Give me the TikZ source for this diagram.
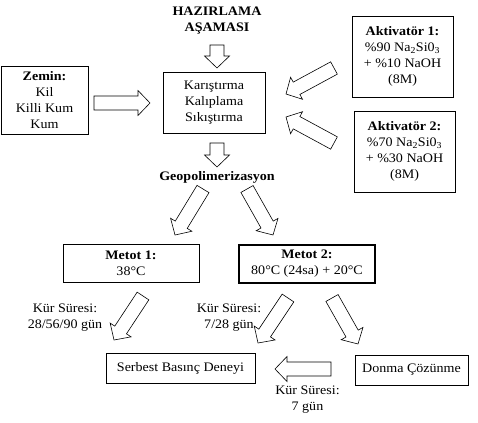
\documentclass[tikz,border=0pt]{standalone}
\usepackage{fontspec}
\setmainfont[FakeStretch=1.08]{Liberation Serif}
\usetikzlibrary{calc}
\newcommand{\blkarrow}[2]{%
  \coordinate (bn) at ($(#2)!12pt!(#1)$);
  \draw[blk] ($(#1)!7pt!90:(#2)$) -- ($(bn)!7pt!90:(#2)$) -- ($(bn)!12.5pt!90:(#2)$) -- (#2)
    -- ($(bn)!12.5pt!-90:(#2)$) -- ($(bn)!7pt!-90:(#2)$) -- ($(#1)!7pt!-90:(#2)$) -- cycle;}
\begin{document}
\begin{tikzpicture}[x=1pt,y=-1pt,
  every node/.style={font=\fontsize{13}{16}\selectfont, inner sep=0pt},
  box/.style={draw, line width=0.8pt, align=center},
  thickbox/.style={box, line width=1.3pt},
  lbl/.style={align=center},
  blk/.style={draw, line width=0.6pt, fill=white, line join=miter}]
\useasboundingbox (0,0) rectangle (478,422);

% boxes
\node[box, minimum width=87pt, minimum height=68pt] (zemin) at (44.5,100) {\textbf{Zemin:}\\Kil\\Killi Kum\\Kum};
\node[box, minimum width=102pt, minimum height=61pt] (karis) at (214,102.5) {Karıştırma\\Kalıplama\\Sıkıştırma};
\node[box, minimum width=101pt, minimum height=81pt] (akt1) at (402.5,56.5) {\textbf{Aktivatör 1:}\\\%90 Na\textsubscript{2}Si0\textsubscript{3}\\+ \%10 NaOH\\(8M)};
\node[box, minimum width=101pt, minimum height=81pt] (akt2) at (404.5,151.5) {\textbf{Aktivatör 2:}\\\%70 Na\textsubscript{2}Si0\textsubscript{3}\\+ \%30 NaOH\\(8M)};
\node[box, minimum width=136pt, minimum height=38pt] (m1) at (131,263) {\textbf{Metot 1:}\\38°C};
\node[thickbox, minimum width=136pt, minimum height=38pt] (m2) at (307,264) {\textbf{Metot 2:}\\80°C (24sa) + 20°C};
\node[box, minimum width=149pt, minimum height=30pt] (serbest) at (180.5,368) {Serbest Basınç Deneyi};
\node[box, minimum width=113pt, minimum height=30pt] (donma) at (411.5,370) {Donma Çözünme};

% labels
\node[lbl, font=\bfseries\fontsize{13}{15.5}\selectfont] (title) at (217,20.5) {HAZIRLAMA\\AŞAMASI};
\node[lbl, font=\bfseries\fontsize{13}{16}\selectfont] (geo) at (217,177) {Geopolimerizasyon};
\node[lbl] (k1) at (65,317.5) {Kür Süresi:\\28/56/90 gün};
\node[lbl] (k2) at (229,317.5) {Kür Süresi:\\7/28 gün};
\node[lbl] (k3) at (307.5,399.5) {Kür Süresi:\\7 gün};

% block arrows
\coordinate (a1t) at (217,45);   \coordinate (a1h) at (217,68);
\coordinate (a2t) at (94,103);   \coordinate (a2h) at (150,103);
\coordinate (a3t) at (334,68);   \coordinate (a3h) at (286,94);
\coordinate (a4t) at (334,143);  \coordinate (a4h) at (286,117);
\coordinate (a5t) at (217,143);  \coordinate (a5h) at (217,167);
\coordinate (a6t) at (203,189);  \coordinate (a6h) at (175,235);
\coordinate (a7t) at (247,189);  \coordinate (a7h) at (273,235);
\coordinate (a8t) at (143,296);  \coordinate (a8h) at (114,340);
\coordinate (a9t) at (288,298);  \coordinate (a9h) at (258,343);
\coordinate (a10t) at (332,298); \coordinate (a10h) at (358,344);
\coordinate (a11t) at (331,369); \coordinate (a11h) at (275,369);
\blkarrow{a1t}{a1h}
\blkarrow{a2t}{a2h}
\blkarrow{a3t}{a3h}
\blkarrow{a4t}{a4h}
\blkarrow{a5t}{a5h}
\blkarrow{a6t}{a6h}
\blkarrow{a7t}{a7h}
\blkarrow{a8t}{a8h}
\blkarrow{a9t}{a9h}
\blkarrow{a10t}{a10h}
\blkarrow{a11t}{a11h}
\end{tikzpicture}
\end{document}
